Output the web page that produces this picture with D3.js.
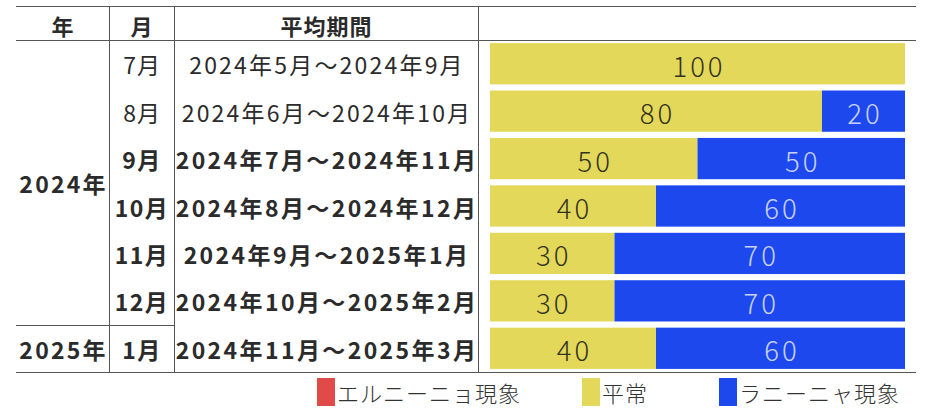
<!DOCTYPE html>
<html><head><meta charset="utf-8">
<script src="https://cdn.jsdelivr.net/npm/d3@7/dist/d3.min.js"></script>
<style>
html,body{margin:0;padding:0;background:#fff;}
text{font-family:"Noto Sans CJK JP","Noto Sans",sans-serif;}
</style></head>
<body>
<svg id="chart" width="934" height="419"></svg>
<script>
// ---- data ----
const headers = ["年", "月", "平均期間"];
const yearGroups = [{label: "2024年", from: 0, to: 5}, {label: "2025年", from: 6, to: 6}];
const months = ["7月", "8月", "9月", "10月", "11月", "12月", "1月"];
const periods = ["2024年5月～2024年9月", "2024年6月～2024年10月", "2024年7月～2024年11月",
  "2024年8月～2024年12月", "2024年9月～2025年1月", "2024年10月～2025年2月", "2024年11月～2025年3月"];
const elNino = [0, 0, 0, 0, 0, 0, 0];
const normal = [100, 80, 50, 40, 30, 30, 40];
const laNina = [0, 20, 50, 60, 70, 70, 60];
const seriesNames = ["エルニーニョ現象", "平常", "ラニーニャ現象"];
const seriesColors = ["#e04a48", "#e3d85a", "#1c48ee"];
const labelColors = ["#f5f5f5", "#333322", "#c9d2f5"];

// ---- layout ----
const svg = d3.select("#chart");
const tableLeft = 16, tableRight = 916, tableTop = 6, headerBottom = 40, tableBottom = 372;
const colX = [tableLeft, 109, 174, 478, tableRight];
const lineColor = "#555";

const x = d3.scaleLinear().domain([0, 100]).range([490, 905]);
const y = d3.scaleBand().domain(d3.range(months.length)).range([headerBottom, tableBottom])
  .paddingInner(0.13).paddingOuter(0.065);
const rowMid = i => y(i) + y.bandwidth() / 2;

// table lines
const g = svg.append("g");
[tableTop, headerBottom, tableBottom].forEach(yy =>
  g.append("line").attr("x1", tableLeft).attr("x2", tableRight).attr("y1", yy + 0.5).attr("y2", yy + 0.5)
    .attr("stroke", lineColor).attr("stroke-width", 1));
[1, 2, 3].forEach(k =>
  g.append("line").attr("x1", colX[k] + 0.5).attr("x2", colX[k] + 0.5).attr("y1", tableTop).attr("y2", tableBottom)
    .attr("stroke", lineColor).attr("stroke-width", 1));
// separator between year groups (year + month columns)
const sepY = (y(5) + y.bandwidth() + y(6)) / 2;
g.append("line").attr("x1", tableLeft).attr("x2", colX[2]).attr("y1", Math.round(sepY) + 0.5).attr("y2", Math.round(sepY) + 0.5)
  .attr("stroke", lineColor).attr("stroke-width", 1);

const textStyle = (sel, bold, size, ls) => sel.attr("font-size", size).attr("font-weight", bold ? 700 : 400)
  .attr("fill", "#2b2b2b").attr("letter-spacing", ls).attr("text-anchor", "middle").attr("dominant-baseline", "central");
const cx = k => (colX[k] + colX[k + 1]) / 2;

// headers
headers.forEach((h, k) => {
  textStyle(g.append("text"), true, 22, 1).attr("x", cx(k) + 0.5).attr("y", (tableTop + headerBottom) / 2 + 1.5).text(h);
});

// year labels
yearGroups.forEach(yg => {
  const cy = (rowMid(yg.from) + rowMid(yg.to)) / 2 + 1;
  textStyle(g.append("text"), true, 23, 2.2).attr("x", cx(0) + 1).attr("y", cy).text(yg.label);
});

// month + period labels
months.forEach((m, i) => {
  const bold = i >= 2;
  textStyle(g.append("text"), bold, 23, bold ? 1.5 : 0.8).attr("x", cx(1) + 0.5).attr("y", rowMid(i) + 0.5).text(m);
  textStyle(g.append("text"), bold, 23, bold ? 2.4 : 2.2).attr("x", cx(2) + 1).attr("y", rowMid(i) + 0.5).text(periods[i]);
});

// stacked bars
const rows = months.map((m, i) => ({i, values: [elNino[i], normal[i], laNina[i]]}));
const segs = [];
rows.forEach(r => {
  let acc = 0;
  r.values.forEach((v, s) => { segs.push({i: r.i, s, x0: acc, x1: acc + v, v}); acc += v; });
});
const bars = svg.append("g");
bars.selectAll("rect").data(segs.filter(d => d.v > 0)).join("rect")
  .attr("x", d => x(d.x0)).attr("width", d => x(d.x1) - x(d.x0))
  .attr("y", d => y(d.i)).attr("height", y.bandwidth())
  .attr("fill", d => seriesColors[d.s]);
bars.selectAll("text").data(segs.filter(d => d.v > 0)).join("text")
  .attr("x", d => (x(d.x0) + x(d.x1)) / 2 + 1.5).attr("y", d => rowMid(d.i) + 1)
  .attr("text-anchor", "middle").attr("dominant-baseline", "central")
  .attr("font-size", 27.5).attr("font-weight", 300).attr("letter-spacing", 3)
  .attr("fill", d => labelColors[d.s]).text(d => d.v);

// legend
const legendX = [317, 582, 719];
const lg = svg.append("g");
seriesNames.forEach((n, s) => {
  lg.append("rect").attr("x", legendX[s]).attr("y", 378).attr("width", 18).attr("height", 28).attr("fill", seriesColors[s]);
  lg.append("text").attr("x", legendX[s] + 20).attr("y", 392).attr("dominant-baseline", "central")
    .attr("font-size", 22).attr("font-weight", 300).attr("letter-spacing", 1).attr("fill", "#333").text(n);
});
</script>
</body></html>
